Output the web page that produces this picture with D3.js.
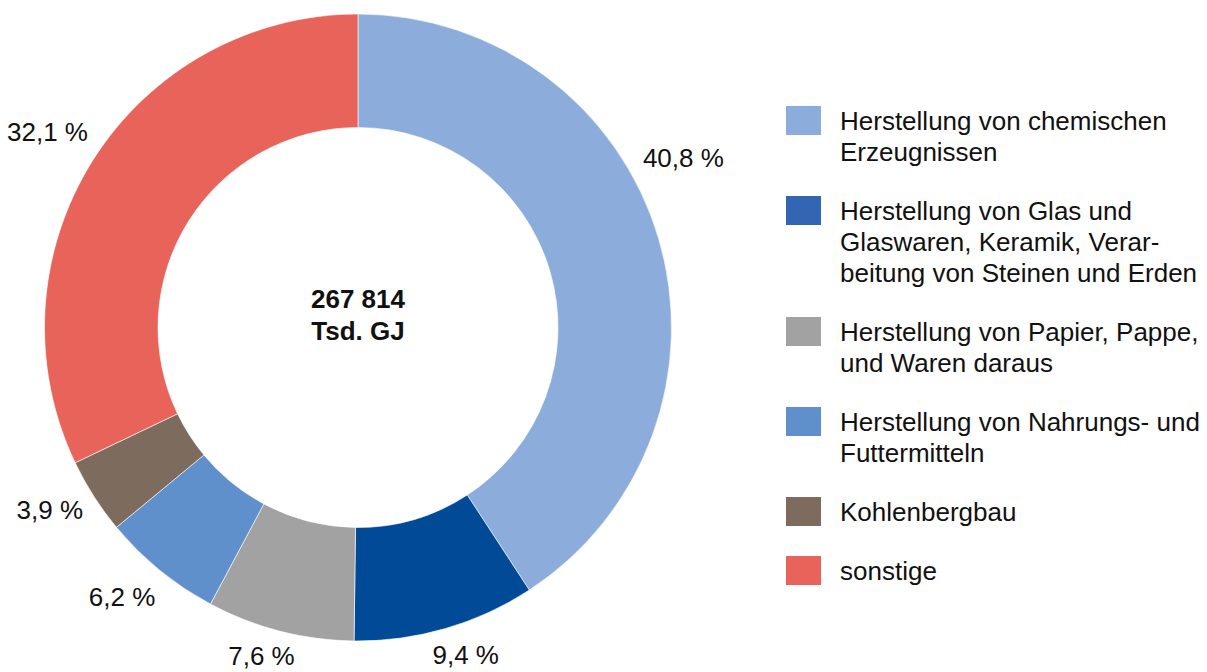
<!DOCTYPE html>
<html>
<head>
<meta charset="utf-8">
<title>Energieverbrauch nach Branchen</title>
<script src="https://d3js.org/d3.v7.min.js"></script>
<style>
  body { margin: 0; background: #fff; }
  svg text { font-family: "Liberation Sans", Arial, sans-serif; fill: #111; }
</style>
</head>
<body>
<div id="chart"></div>
<script>
// data
var categories = [
  ["Herstellung von chemischen", "Erzeugnissen"],
  ["Herstellung von Glas und", "Glaswaren, Keramik, Verar-", "beitung von Steinen und Erden"],
  ["Herstellung von Papier, Pappe,", "und Waren daraus"],
  ["Herstellung von Nahrungs- und", "Futtermitteln"],
  ["Kohlenbergbau"],
  ["sonstige"]
];
var shares = [40.8, 9.4, 7.6, 6.2, 3.9, 32.1];
var shareLabels = ["40,8 %", "9,4 %", "7,6 %", "6,2 %", "3,9 %", "32,1 %"];
var sliceColors = ["#8cadDB", "#004a97", "#a2a2a2", "#6090cb", "#7d6b5d", "#e8635a"];
var legendColors = ["#8cadDB", "#3366b2", "#a2a2a2", "#6090cb", "#7d6b5d", "#e8635a"];
var totalLines = ["267 814", "Tsd. GJ"];

var width = 1207, height = 672;
var cx = 358, cy = 327.5;
var outerR = 313.5, innerR = 200;
var fontSize = "26px";

var svg = d3.select("#chart").append("svg")
    .attr("width", width)
    .attr("height", height);

var pie = d3.pie().sort(null).value(function(d) { return d; });
var arcs = pie(shares);
var arc = d3.arc().innerRadius(innerR).outerRadius(outerR);

var g = svg.append("g").attr("transform", "translate(" + cx + "," + cy + ")");

g.selectAll("path.slice")
    .data(arcs)
    .enter().append("path")
    .attr("class", "slice")
    .attr("d", arc)
    .attr("fill", function(d, i) { return sliceColors[i]; })
    .attr("stroke", "#fff")
    .attr("stroke-width", 0.6);

// percentage labels outside the ring (first label nudged up like in the original)
var labelShift = [-11, -2, 2, 2, 2, 0];
var labelR = [367, 345, 342, 358, 358, 367];
g.selectAll("text.pct")
    .data(arcs)
    .enter().append("text")
    .attr("class", "pct")
    .attr("text-anchor", "middle")
    .attr("dominant-baseline", "central")
    .style("font-size", fontSize)
    .attr("x", function(d, i) {
        var a = (d.startAngle + d.endAngle) / 2 + labelShift[i] * Math.PI / 180;
        return Math.sin(a) * labelR[i];
    })
    .attr("y", function(d, i) {
        var a = (d.startAngle + d.endAngle) / 2 + labelShift[i] * Math.PI / 180;
        return -Math.cos(a) * labelR[i];
    })
    .text(function(d, i) { return shareLabels[i]; });

// total in the middle
g.selectAll("text.total")
    .data(totalLines)
    .enter().append("text")
    .attr("class", "total")
    .attr("text-anchor", "middle")
    .attr("dominant-baseline", "central")
    .style("font-size", fontSize)
    .style("font-weight", "bold")
    .attr("y", function(d, i) { return -29 + i * 32; })
    .text(function(d) { return d; });

// legend
var lineH = 31, gap = 28;
var legend = svg.append("g").attr("transform", "translate(786,106)");
var offset = 0;
categories.forEach(function(lines, i) {
    var item = legend.append("g").attr("transform", "translate(0," + offset + ")");
    item.append("rect")
        .attr("width", 35)
        .attr("height", 29)
        .attr("fill", legendColors[i]);
    item.selectAll("text")
        .data(lines)
        .enter().append("text")
        .attr("x", 54)
        .attr("y", function(d, j) { return 15 + j * lineH; })
        .attr("dominant-baseline", "central")
        .style("font-size", fontSize)
        .text(function(d) { return d; });
    offset += lines.length * lineH + gap;
});
</script>
</body>
</html>
